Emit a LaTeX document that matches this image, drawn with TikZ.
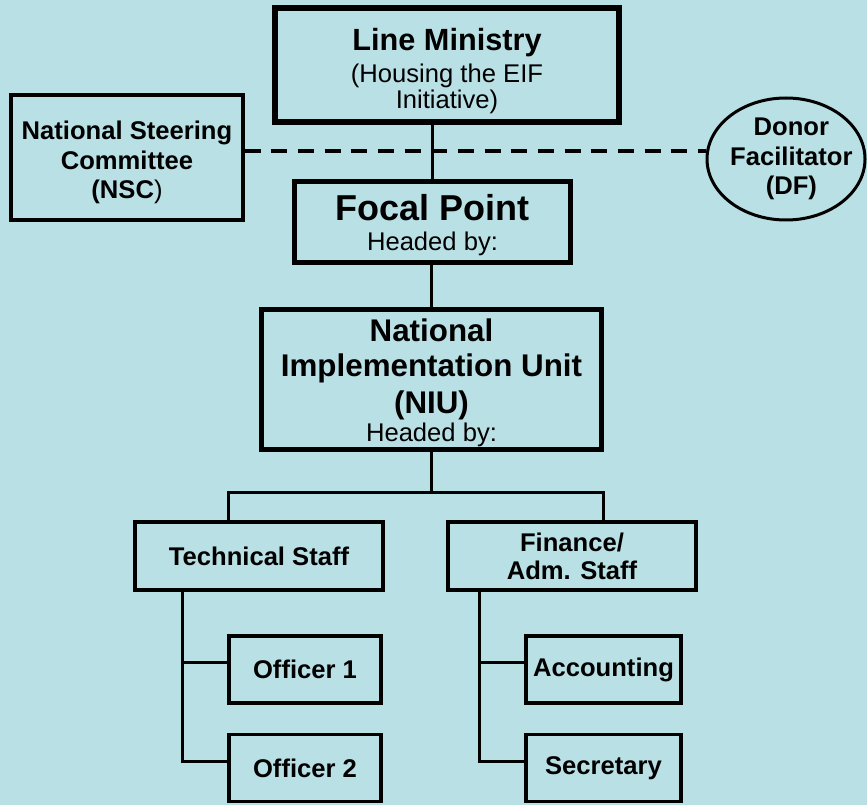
\documentclass[tikz,border=0pt]{standalone}
\usepackage{fontspec}
\setmainfont{Liberation Sans}
\usetikzlibrary{shapes.geometric}

\definecolor{bg}{RGB}{185,224,228}

\newcommand{\titlefnt}[1]{\bfseries\fontsize{#1}{#1}\selectfont}
\newcommand{\plainfnt}{\mdseries\fontsize{19.2}{21}\selectfont}

\tikzset{
  bigbox/.style={draw, line width=4pt, align=center, inner sep=0pt},
  smallbox/.style={draw, line width=2.6pt, align=center, inner sep=0pt,
    font=\bfseries\fontsize{19.2}{22}\selectfont},
  link/.style={line width=2.25pt},
  dashlink/.style={line width=3pt, dash pattern=on 12pt off 8pt},
}

\begin{document}
\begin{tikzpicture}[x=0.75pt,y=-0.75pt]

        \fill[bg] (0,0) rectangle (867,805);
        \useasboundingbox (0,0) rectangle (867,805);

        % top of the chart
        \node[bigbox, minimum width=258pt, minimum height=85.5pt, font=\fontsize{19.2}{19.5}\selectfont] (lm) at (447,65)
          {\rule{0pt}{26pt}\titlefnt{23}Line Ministry\\[4.5pt]
           \plainfnt (Housing the EIF\\\plainfnt Initiative)};
        \node[smallbox, minimum width=174pt, minimum height=93.75pt] (nsc) at (127,157.5)
          {\rule{0pt}{21.5pt}National Steering\\Committee\\(NSC{\mdseries )}};
        \node[draw, ellipse, line width=2.25pt, minimum width=118.5pt, minimum height=91.5pt, inner sep=0pt,
          label={[align=center, xshift=4pt, font=\bfseries\fontsize{19.2}{22}\selectfont]center:Donor\\Facilitator\\(DF)}] (df) at (786,159) {};
        \node[bigbox, minimum width=207pt, minimum height=60.75pt, font=\fontsize{19.2}{23}\selectfont] (fp) at (432.5,222)
          {\rule{0pt}{24.2pt}\titlefnt{27}Focal Point\\\plainfnt Headed by:};
        \node[bigbox, minimum width=255pt, minimum height=105pt, font=\fontsize{19.2}{21}\selectfont] (niu) at (431.5,379.5)
          {\rule{0pt}{21.7pt}\titlefnt{23.5}National\\[5pt]\titlefnt{23.5}Implementation Unit\\[5pt]\titlefnt{23.5}(NIU)\\
           \plainfnt Headed by:};

        % staff
        \node[smallbox, minimum width=186pt, minimum height=51pt] (tech) at (259,556) {Technical Staff};
        \node[smallbox, minimum width=186pt, minimum height=51pt, font=\bfseries\fontsize{19.2}{21}\selectfont] (fin) at (572,556) {Finance/\\Adm. Staff};
        \node[smallbox, minimum width=114pt, minimum height=50pt] (off1) at (305,669.5) {Officer 1};
        \node[smallbox, minimum width=114pt, minimum height=50pt] (off2) at (305,768) {Officer 2};
        \node[smallbox, minimum width=116pt, minimum height=50pt] (acc) at (603.5,669.5) {Accounting};
        \node[smallbox, minimum width=116pt, minimum height=50pt] (sec) at (603.5,768) {Secretary};

        \coordinate (dl) at (0,151);
        \coordinate (bl) at (228,492);
        \coordinate (br) at (603,492);
        \coordinate (sl) at (182,0);
        \coordinate (sr) at (479,0);

        \draw[link] (fp.north) -- (fp.north |- lm.south);
        \draw[dashlink] (nsc.east |- dl) -- (df.west |- dl);
        \draw[link] (niu.north) -- (niu.north |- fp.south);
        \draw[link] (niu.south) -- (niu.south |- bl);
        \draw[link] (tech.north -| bl) |- (br) -- (fin.north -| br);

        \draw[link] (tech.south -| sl) |- ([yshift=5pt]off2.west);
        \draw[link] ([yshift=5pt]off1.west -| sl) -- ([yshift=5pt]off1.west);
        \draw[link] (fin.south -| sr) |- ([yshift=5pt]sec.west);
        \draw[link] ([yshift=5pt]acc.west -| sr) -- ([yshift=5pt]acc.west);

      \end{tikzpicture}
\end{document}
